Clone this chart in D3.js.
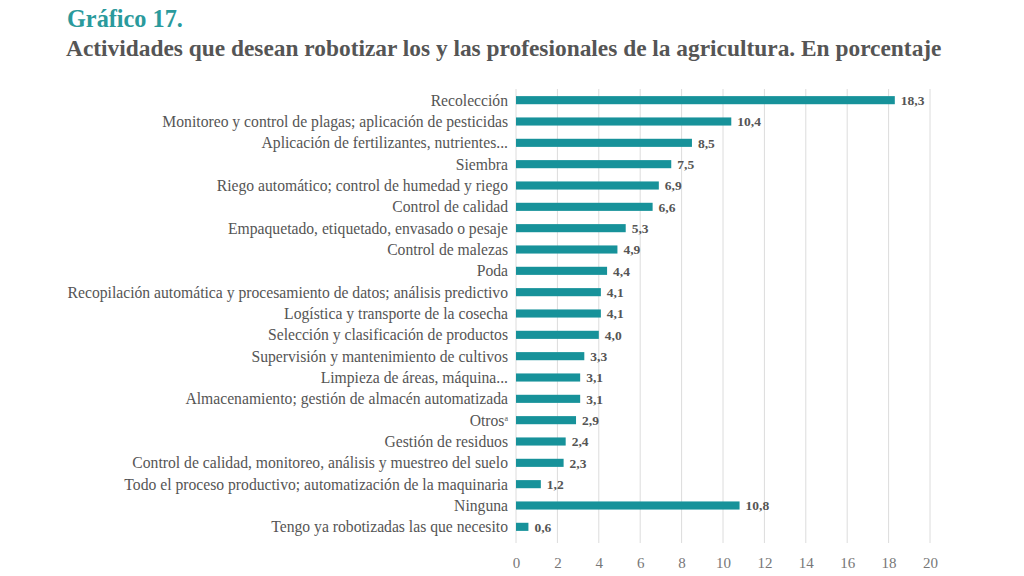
<!DOCTYPE html>
<html>
<head>
<meta charset="utf-8">
<script src="https://cdn.jsdelivr.net/npm/d3@7"></script>
<style>
  body { margin: 0; background: #fff; }
</style>
</head>
<body>
<svg width="1024" height="576"></svg>
<script>
const categories = [
    'Recolección',
    'Monitoreo y control de plagas; aplicación de pesticidas',
    'Aplicación de fertilizantes, nutrientes...',
    'Siembra',
    'Riego automático; control de humedad y riego',
    'Control de calidad',
    'Empaquetado, etiquetado, envasado o pesaje',
    'Control de malezas',
    'Poda',
    'Recopilación automática y procesamiento de datos; análisis predictivo',
    'Logística y transporte de la cosecha',
    'Selección y clasificación de productos',
    'Supervisión y mantenimiento de cultivos',
    'Limpieza de áreas, máquina...',
    'Almacenamiento; gestión de almacén automatizada',
    'Otros',
    'Gestión de residuos',
    'Control de calidad, monitoreo, análisis y muestreo del suelo',
    'Todo el proceso productivo; automatización de la maquinaria',
    'Ninguna',
    'Tengo ya robotizadas las que necesito'
]
const values = [18.3, 10.4, 8.5, 7.5, 6.9, 6.6, 5.3, 4.9, 4.4, 4.1, 4.1, 4.0, 3.3, 3.1, 3.1, 2.9, 2.4, 2.3, 1.2, 10.8, 0.6]
const xTicks = [0, 2, 4, 6, 8, 10, 12, 14, 16, 18, 20]

const svg = d3.select('svg')
const teal = '#17929a'
const serif = '"Liberation Serif"'

// ajusta el tamaño de letra para que el texto mida lo que mide en la imagen
function fitWidth (sel, target) {
    sel.style('font-size', '20px')
    const w = sel.node().getComputedTextLength()
    const size = 20 * target / w
    sel.style('font-size', size + 'px')
    return size
}

const title = svg.append('text')
    .attr('x', 67).attr('y', 27)
    .style('font-family', serif)
    .style('font-weight', 'bold')
    .attr('fill', '#2a9a9c')
    .text('Gráfico 17.')
fitWidth(title, 116)

const subtitle = svg.append('text')
    .attr('x', 66).attr('y', 56)
    .style('font-family', serif)
    .style('font-weight', 'bold')
    .attr('fill', '#555')
    .text('Actividades que desean robotizar los y las profesionales de la agricultura. En porcentaje')
fitWidth(subtitle, 876)

const x = d3.scaleLinear().domain([0, 20]).range([516, 930])
const y = d3.scaleBand()
    .domain(categories)
    .range([89.5, 537.5])
    .paddingInner(0.62)
    .paddingOuter(0.31)

// rejilla vertical
svg.append('g')
    .selectAll('line')
    .data(xTicks)
    .enter()
    .append('line')
    .attr('x1', d => x(d)).attr('x2', d => x(d))
    .attr('y1', 89).attr('y2', 543)
    .attr('stroke', '#dcdcdc')
    .attr('stroke-width', 1)

svg.append('g')
    .attr('transform', 'translate(0, 545)')
    .call(d3.axisBottom(x).tickValues(xTicks).tickSize(0).tickPadding(12))
    .call(g => g.select('.domain').remove())
    .call(g => g.selectAll('text')
        .style('font-family', serif)
        .style('font-size', '15px')
        .attr('fill', '#777'))

svg.append('g')
    .selectAll('rect')
    .data(values)
    .enter()
    .append('rect')
    .attr('x', x(0))
    .attr('y', (d, i) => y(categories[i]))
    .attr('width', d => x(d) - x(0))
    .attr('height', y.bandwidth())
    .attr('fill', teal)

// etiquetas de categoría
const lab = svg.append('g')
    .selectAll('text')
    .data(categories)
    .enter()
    .append('text')
    .attr('x', x(0) - 8)
    .attr('y', d => y(d) + y.bandwidth() / 2)
    .attr('dy', '0.35em')
    .attr('text-anchor', 'end')
    .style('font-family', serif)
    .attr('fill', '#555')
    .text(d => d)

const labSize = fitWidth(lab.filter(d => d.startsWith('Recopilación')), 441)
lab.style('font-size', labSize + 'px')

lab.filter(d => d === 'Otros')
    .append('tspan')
    .style('font-size', '8px')
    .attr('dy', '-0.6em')
    .text('a')

svg.append('g')
    .selectAll('text')
    .data(values)
    .enter()
    .append('text')
    .attr('x', d => x(d) + 6)
    .attr('y', (d, i) => y(categories[i]) + y.bandwidth() / 2)
    .attr('dy', '0.35em')
    .style('font-family', serif)
    .style('font-size', '13.5px')
    .style('font-weight', 'bold')
    .attr('fill', '#555')
    .text(d => d3.format('.1f')(d).replace('.', ','))
</script>
</body>
</html>
